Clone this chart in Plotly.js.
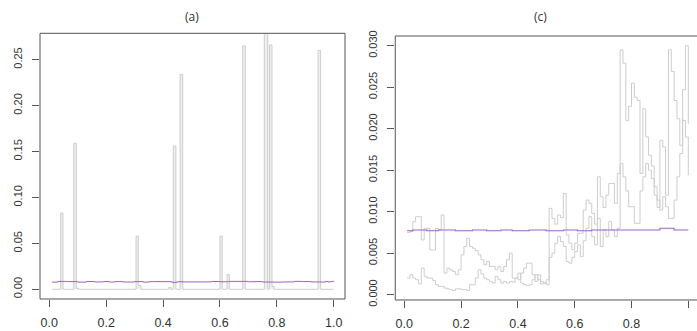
<!DOCTYPE html>
<html>
<head>
<meta charset="utf-8">
<script src="https://cdn.plot.ly/plotly-3.0.1.min.js"></script>
<style>html,body{margin:0;padding:0;background:#fff;}#chart{width:697px;height:331px;}</style>
</head>
<body>
<div id="chart"></div>
<script>
// ---------- Panel (a) ----------
const aGrayX = [0.01, 0.04, 0.048, 0.086, 0.095, 0.103, 0.305, 0.313, 0.322, 0.42, 0.428, 0.436, 0.445, 0.46, 0.469, 0.60, 0.608, 0.625, 0.633, 0.68, 0.689, 0.756, 0.768, 0.774, 0.783, 0.79, 0.945, 0.954, 1.0];
const aGrayY = [0, 0.083, 0, 0.159, 0.001, 0, 0.058, 0.004, 0, 0.002, 0, 0.156, 0, 0.234, 0, 0.058, 0, 0.016, 0, 0.265, 0, 0.300, 0, 0.266, 0.003, 0, 0.260, 0, 0];

const aPurpX = [0.01, 0.03, 0.06, 0.10, 0.13, 0.16, 0.19, 0.21, 0.23, 0.26, 0.30, 0.33, 0.35, 0.37, 0.40, 0.43, 0.45, 0.47, 0.52, 0.57, 0.60, 0.63, 0.66, 0.70, 0.72, 0.75, 0.78, 0.82, 0.86, 0.89, 0.92, 0.95, 0.97, 0.98, 0.99, 1.0];
const aPurpY = [0.0078, 0.0086, 0.0084, 0.0078, 0.0085, 0.0080, 0.0085, 0.0079, 0.0084, 0.0079, 0.0084, 0.0078, 0.0083, 0.0084, 0.0083, 0.0076, 0.0082, 0.0080, 0.0080, 0.0085, 0.0082, 0.0086, 0.0086, 0.0082, 0.0084, 0.0079, 0.0078, 0.0080, 0.0086, 0.0084, 0.0080, 0.0079, 0.0085, 0.0080, 0.0086, 0.0080];

// ---------- Panel (c) ----------
const cX = [0.01,0.02,0.03,0.04,0.05,0.06,0.07,0.08,0.09,0.10,
            0.11,0.12,0.13,0.14,0.15,0.16,0.17,0.18,0.19,0.20,
            0.21,0.22,0.23,0.24,0.25,0.26,0.27,0.28,0.29,0.30,
            0.31,0.32,0.33,0.34,0.35,0.36,0.37,0.38,0.39,0.40,
            0.41,0.42,0.43,0.44,0.45,0.46,0.47,0.48,0.49,0.50,
            0.51,0.52,0.53,0.54,0.55,0.56,0.57,0.58,0.59,0.60,
            0.61,0.62,0.63,0.64,0.65,0.66,0.67,0.68,0.69,0.70,
            0.71,0.72,0.73,0.74,0.75,0.76,0.77,0.78,0.79,0.80,
            0.81,0.82,0.83,0.84,0.85,0.86,0.87,0.88,0.89,0.90,
            0.91,0.92,0.93,0.94,0.95,0.96,0.97,0.98,0.99,1.00];
const cSeries1 = [0.0075,0.0076,0.0088,0.0094,0.0094,0.0066,0.0080,0.0080,0.0054,0.0054,
                  0.0080,0.0078,0.0096,0.0026,0.0032,0.0030,0.0028,0.0024,0.0030,0.0048,
                  0.0058,0.0068,0.0058,0.0056,0.0053,0.0048,0.0042,0.0036,0.0040,0.0034,
                  0.0034,0.0030,0.0034,0.0028,0.0034,0.0042,0.0050,0.0020,0.0020,0.0018,
                  0.0026,0.0032,0.0038,0.0038,0.0024,0.0016,0.0024,0.0016,0.0014,0.0018,
                  0.0104,0.0092,0.0085,0.0096,0.0093,0.0122,0.0072,0.0062,0.0054,0.0062,
                  0.0074,0.0074,0.0102,0.0114,0.0110,0.0098,0.0085,0.0142,0.0118,0.0105,
                  0.0120,0.0134,0.0134,0.0110,0.0146,0.0295,0.0279,0.0210,0.0227,0.0255,
                  0.0238,0.0234,0.0146,0.0224,0.0190,0.0168,0.0155,0.0130,0.0105,0.0186,
                  0.0178,0.0120,0.0295,0.0269,0.0234,0.0212,0.0180,0.0247,0.0300,0.0206];
const cSeries2 = [0.0020,0.0024,0.0020,0.0018,0.0013,0.0032,0.0022,0.0020,0.0020,0.0017,
                  0.0012,0.0010,0.0010,0.0008,0.0007,0.0006,0.0005,0.0007,0.0007,0.0006,
                  0.0006,0.0005,0.0012,0.0012,0.0020,0.0030,0.0025,0.0020,0.0018,0.0016,
                  0.0014,0.0022,0.0018,0.0014,0.0016,0.0014,0.0016,0.0015,0.0020,0.0026,
                  0.0014,0.0012,0.0011,0.0012,0.0018,0.0024,0.0018,0.0013,0.0014,0.0012,
                  0.0045,0.0050,0.0062,0.0070,0.0064,0.0058,0.0040,0.0038,0.0045,0.0052,
                  0.0060,0.0046,0.0065,0.0080,0.0094,0.0070,0.0060,0.0092,0.0058,0.0078,
                  0.0070,0.0088,0.0078,0.0070,0.0080,0.0158,0.0142,0.0125,0.0106,0.0106,
                  0.0086,0.0086,0.0125,0.0142,0.0158,0.0150,0.0140,0.0120,0.0114,0.0102,
                  0.0118,0.0106,0.0092,0.0092,0.0114,0.0142,0.0170,0.0210,0.0190,0.0144];
const cPurpX = [0.01, 0.03, 0.08, 0.12, 0.18, 0.24, 0.29, 0.34, 0.38, 0.44, 0.50, 0.56, 0.61, 0.66, 0.70, 0.76, 0.82, 0.90, 0.95, 1.0];
const cPurpY = [0.0077, 0.0078, 0.0077, 0.0078, 0.0077, 0.0078, 0.0077, 0.0078, 0.0077, 0.0078, 0.0077, 0.0078, 0.0077, 0.0078, 0.0078, 0.0078, 0.0078, 0.0080, 0.0078, 0.0078];

const aYTicks = [0, 0.05, 0.10, 0.15, 0.20, 0.25];
const cYTicks = [0, 0.005, 0.010, 0.015, 0.020, 0.025, 0.030];
const xTicks = [0, 0.2, 0.4, 0.6, 0.8, 1.0];

const GRAY = '#cdcdcd', PURPLE = '#9d62c8', AXC = '#555555', TXT = '#333333';
const FONT = 'Liberation Sans, Arial, sans-serif';

const traces = [
  {x: aGrayX, y: aGrayY, xaxis: 'x', yaxis: 'y', mode: 'lines', line: {color: GRAY, width: 1, shape: 'hv'}, fill: 'tozeroy', fillcolor: '#efefef'},
  {x: aPurpX, y: aPurpY, xaxis: 'x', yaxis: 'y', mode: 'lines', line: {color: PURPLE, width: 1, shape: 'hv'}},
  {x: cX, y: cSeries1, xaxis: 'x2', yaxis: 'y2', mode: 'lines', line: {color: GRAY, width: 1, shape: 'hv'}},
  {x: cX, y: cSeries2, xaxis: 'x2', yaxis: 'y2', mode: 'lines', line: {color: GRAY, width: 1, shape: 'hv'}},
  {x: cPurpX, y: cPurpY, xaxis: 'x2', yaxis: 'y2', mode: 'lines', line: {color: PURPLE, width: 1.1, shape: 'hv'}}
];

function xax(domain, range, anchor) {
  return {domain: domain, range: range, anchor: anchor, tickvals: xTicks, tickformat: '.1f',
    ticks: 'outside', ticklen: 7, tickcolor: AXC, tickwidth: 1, showgrid: false, zeroline: false,
    showline: false, ticklabelstandoff: 5, tickfont: {family: FONT, size: 12.5, color: TXT}};
}
function yax(domain, range, anchor, tv, fmt) {
  return {domain: domain, range: range, anchor: anchor, tickvals: tv, tickformat: fmt, tickangle: -90,
    ticks: 'outside', ticklen: 7, tickcolor: AXC, tickwidth: 1, showgrid: false, zeroline: false,
    showline: false, ticklabelstandoff: 6, tickfont: {family: FONT, size: 11, color: TXT}};
}

const layout = {
  width: 697, height: 331, margin: {l: 0, r: 0, t: 0, b: 0},
  paper_bgcolor: '#ffffff', plot_bgcolor: '#ffffff', showlegend: false,
  xaxis: xax([0.0574, 0.4950], [-0.0327, 1.0397], 'y'),
  yaxis: yax([0.0967, 0.8994], [-0.01056, 0.2787], 'x', aYTicks, '.2f'),
  xaxis2: xax([0.5671, 1.0], [-0.0317, 1.0306], 'y2'),
  yaxis2: yax([0.0937, 0.8912], [-0.00064, 0.03117], 'x2', cYTicks, '.3f'),
  shapes: [
    {type: 'rect', xref: 'x domain', yref: 'y domain', x0: 0, x1: 1, y0: 0, y1: 1, line: {color: AXC, width: 1}},
    {type: 'rect', xref: 'x2 domain', yref: 'y2 domain', x0: 0, x1: 1.02, y0: 0, y1: 1, line: {color: AXC, width: 1}}
  ],
  annotations: [
    {text: '(a)', xref: 'paper', yref: 'paper', x: 192/697, y: 1 - 16/331, showarrow: false, xanchor: 'center', yanchor: 'middle', font: {family: 'Open Sans, sans-serif', size: 12, color: TXT}},
    {text: '(c)', xref: 'paper', yref: 'paper', x: 540/697, y: 1 - 16/331, showarrow: false, xanchor: 'center', yanchor: 'middle', font: {family: 'Open Sans, sans-serif', size: 12, color: TXT}}
  ]
};

Plotly.newPlot('chart', traces, layout, {staticPlot: true, displayModeBar: false});
</script>
</body>
</html>
